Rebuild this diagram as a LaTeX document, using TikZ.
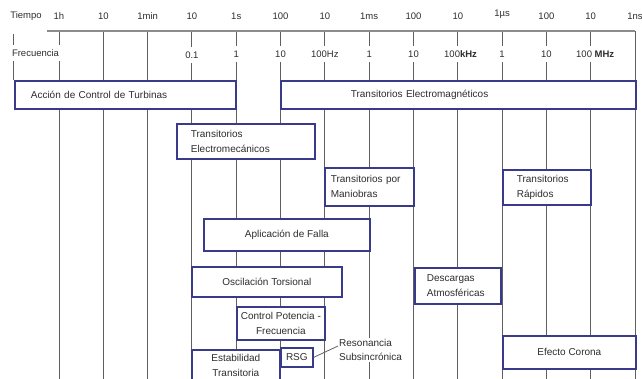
\documentclass[tikz,border=0pt]{standalone}
\usepackage{fontspec}
\setmainfont{Liberation Sans}
\definecolor{boxc}{RGB}{58,58,138}
\definecolor{gridc}{RGB}{95,95,95}
\definecolor{axisc}{RGB}{140,140,140}
\definecolor{txt}{RGB}{45,45,45}
\tikzset{
  lbl/.style={font=\fontsize{9.5}{11}\selectfont, text=txt, inner sep=1pt},
  flbl/.style={lbl, fill=white, inner ysep=5pt},
  grid/.style={draw=gridc, line width=0.9pt},
  bx/.style={draw=boxc, line width=1.7pt, fill=white, anchor=north west,
    inner ysep=0pt, font=\fontsize{10}{15}\selectfont, text=txt},
  conn/.style={draw=gridc, line width=0.8pt},
}
\begin{document}
\begin{tikzpicture}[x=1pt,y=-1pt]
\useasboundingbox (0,0) rectangle (642,379);
\clip (0,0) rectangle (642,379);
% grid lines
\foreach \i in {0,...,13}{
  \draw[grid] ({59+44.31*\i},31) -- ({59+44.31*\i},380);
}
\draw[grid] (13,34) -- (13,80);
\draw[draw=axisc, line width=2pt] (47,31) -- (635,31);
% time labels
\node[lbl] (tT) at (26,16) {Tiempo};
\foreach \t [count=\i from 0] in {1h,10,1min,10,1s,100,10,1ms,100,10,,100,10,1ns}{
  \node[lbl] (t\i) at ({59+44.31*\i},16) {\t};
}
\node[lbl] (tus) at (502,14) {1µs};
% frequency labels
\node[flbl, inner xsep=3pt] (fF) at (35.5,53) {Frecuencia};
\node[flbl] (f3) at (191.9,55) {0.1};
\node[flbl] (f4) at (236.2,54) {1};
\node[flbl] (f5) at (280.5,54) {10};
\node[flbl] (f6) at (324.8,54) {100Hz};
\node[flbl] (f7) at (369.2,54) {1};
\node[flbl] (f8) at (413.5,54) {10};
\node[flbl, anchor=west] (f9) at (443,54) {100\textbf{kHz}};
\node[flbl] (f10) at (502.1,54) {1};
\node[flbl] (f11) at (546.4,54) {10};
\node[flbl, anchor=west] (f12) at (575,54) {100 \textbf{MHz}};
% boxes
\node[bx, align=left, inner xsep=16pt, text width=189pt, minimum height=28pt] (acc) at (14,80) {Acción de Control de Turbinas};
\node[bx, align=left, inner xsep=70pt, text width=215pt, minimum height=28pt] (em) at (280,80) {Transitorios Electromagnéticos};
\node[bx, align=left, inner xsep=14pt, text width=110pt, minimum height=35pt] (emec) at (176,123) {Transitorios\\Electromecánicos};
\node[bx, align=left, inner xsep=6pt, text width=77pt, minimum height=38pt] (man) at (324,167) {Transitorios por\\Maniobras};
\node[bx, align=left, inner xsep=14pt, text width=60pt, minimum height=35pt] (rap) at (502,169) {Transitorios\\Rápidos};
\node[bx, align=center, minimum width=166pt, minimum height=32pt] (falla) at (203,218) {Aplicación de Falla};
\node[bx, align=center, minimum width=150pt, minimum height=30pt] (osc) at (191,266) {Oscilación Torsional};
\node[bx, align=left, inner xsep=12pt, text width=62pt, minimum height=36pt] (desc) at (414,267) {Descargas\\Atmosféricas};
\node[bx, align=center, minimum width=88pt, minimum height=33pt, inner xsep=0pt] (ctrl) at (236,306) {Control Potencia -\\Frecuencia};
\node[bx, align=center, minimum width=32pt, minimum height=19pt, inner xsep=0pt] (rsg) at (280,347) {RSG};
\node[bx, align=center, minimum width=88pt, minimum height=32pt] (estab) at (191,349) {Estabilidad\\Transitoria};
\node[bx, align=center, minimum width=133pt, minimum height=33pt] (corona) at (502,335) {Efecto Corona};
% resonance label
\node[lbl, fill=white, align=left, anchor=north west, font=\fontsize{10}{14}\selectfont, inner sep=1pt] (res) at (338,338) {Resonancia\\Subsincrónica};
\draw[conn] (rsg.east) -- ([yshift=-8pt]res.north west);
\end{tikzpicture}
\end{document}
